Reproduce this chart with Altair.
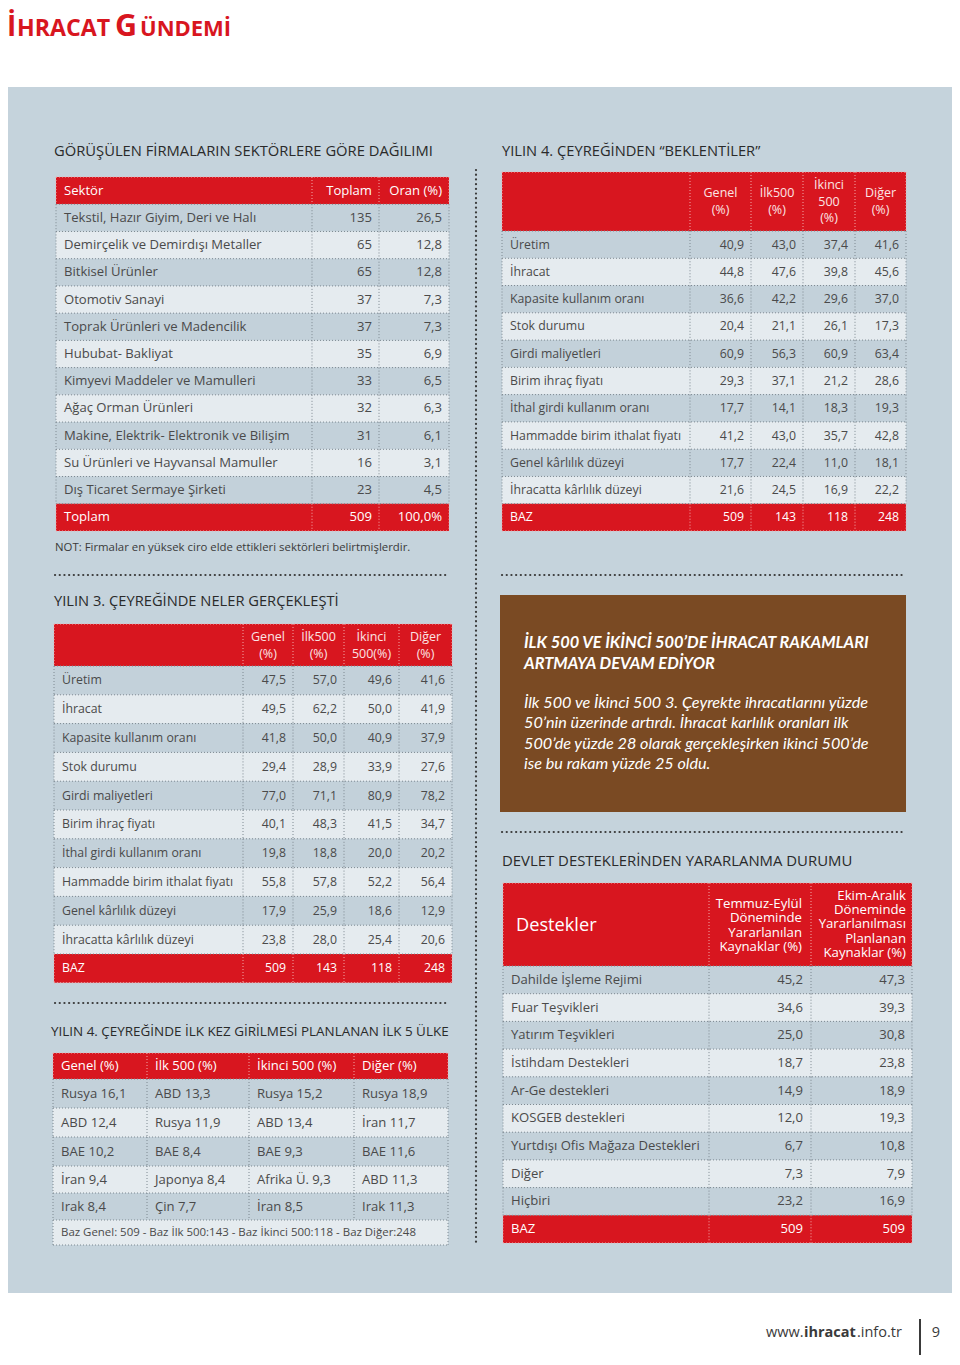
import altair as alt
import pandas as pd

# ---------------- data ----------------
page_title_parts = ["İ", "HRACAT", "G", "ÜNDEMİ"]

t1_title = "GÖRÜŞÜLEN FİRMALARIN SEKTÖRLERE GÖRE DAĞILIMI"
t1_header = ["Sektör", "Toplam", "Oran (%)"]
sector_names = ["Tekstil, Hazır Giyim, Deri ve Halı", "Demirçelik ve Demirdışı Metaller",
                "Bitkisel Ürünler", "Otomotiv Sanayi", "Toprak Ürünleri ve Madencilik",
                "Hububat- Bakliyat", "Kimyevi Maddeler ve Mamulleri", "Ağaç Orman Ürünleri",
                "Makine, Elektrik- Elektronik ve Bilişim", "Su Ürünleri ve Hayvansal Mamuller",
                "Dış Ticaret Sermaye Şirketi"]
sector_total = [135, 65, 65, 37, 37, 35, 33, 32, 31, 16, 23]
sector_share = [26.5, 12.8, 12.8, 7.3, 7.3, 6.9, 6.5, 6.3, 6.1, 3.1, 4.5]
sector_sum_label = "Toplam"
sector_sum_total = 509
sector_sum_share = "100,0%"
t1_note = "NOT: Firmalar en yüksek ciro elde ettikleri sektörleri belirtmişlerdir."

t2_title = "YILIN 4. ÇEYREĞİNDEN “BEKLENTİLER”"
t2_header = [["Genel", "(%)"], ["İlk500", "(%)"], ["İkinci", "500", "(%)"], ["Diğer", "(%)"]]
exp_items = ["Üretim", "İhracat", "Kapasite kullanım oranı", "Stok durumu", "Girdi maliyetleri",
             "Birim ihraç fiyatı", "İthal girdi kullanım oranı", "Hammadde birim ithalat fiyatı",
             "Genel kârlılık düzeyi", "İhracatta kârlılık düzeyi"]
exp_genel = [40.9, 44.8, 36.6, 20.4, 60.9, 29.3, 17.7, 41.2, 17.7, 21.6]
exp_ilk500 = [43.0, 47.6, 42.2, 21.1, 56.3, 37.1, 14.1, 43.0, 22.4, 24.5]
exp_ikinci500 = [37.4, 39.8, 29.6, 26.1, 60.9, 21.2, 18.3, 35.7, 11.0, 16.9]
exp_diger = [41.6, 45.6, 37.0, 17.3, 63.4, 28.6, 19.3, 42.8, 18.1, 22.2]
exp_base = [509, 143, 118, 248]

t3_title = "YILIN 3. ÇEYREĞİNDE NELER GERÇEKLEŞTİ"
t3_header = [["Genel", "(%)"], ["İlk500", "(%)"], ["İkinci", "500(%)"], ["Diğer", "(%)"]]
real_items = ["Üretim", "İhracat", "Kapasite kullanım oranı", "Stok durumu", "Girdi maliyetleri",
              "Birim ihraç fiyatı", "İthal girdi kullanım oranı", "Hammadde birim ithalat fiyatı",
              "Genel kârlılık düzeyi", "İhracatta kârlılık düzeyi"]
real_genel = [47.5, 49.5, 41.8, 29.4, 77.0, 40.1, 19.8, 55.8, 17.9, 23.8]
real_ilk500 = [57.0, 62.2, 50.0, 28.9, 71.1, 48.3, 18.8, 57.8, 25.9, 28.0]
real_ikinci500 = [49.6, 50.0, 40.9, 33.9, 80.9, 41.5, 20.0, 52.2, 18.6, 25.4]
real_diger = [41.6, 41.9, 37.9, 27.6, 78.2, 34.7, 20.2, 56.4, 12.9, 20.6]
real_base = [509, 143, 118, 248]
base_label = "BAZ"

t4_title = "YILIN 4. ÇEYREĞİNDE İLK KEZ GİRİLMESİ PLANLANAN İLK 5 ÜLKE"
t4_header = ["Genel (%)", "İlk 500 (%)", "İkinci 500 (%)", "Diğer (%)"]
cty_genel = ["Rusya", "ABD", "BAE", "İran", "Irak"]
val_genel = [16.1, 12.4, 10.2, 9.4, 8.4]
cty_ilk500 = ["ABD", "Rusya", "BAE", "Japonya", "Çin"]
val_ilk500 = [13.3, 11.9, 8.4, 8.4, 7.7]
cty_ikinci500 = ["Rusya", "ABD", "BAE", "Afrika Ü.", "İran"]
val_ikinci500 = [15.2, 13.4, 9.3, 9.3, 8.5]
cty_diger = ["Rusya", "İran", "BAE", "ABD", "Irak"]
val_diger = [18.9, 11.7, 11.6, 11.3, 11.3]
t4_footer = "Baz Genel: 509 - Baz İlk 500:143 - Baz İkinci 500:118 - Baz Diğer:248"

box_title = ["İLK 500 VE İKİNCİ 500’DE İHRACAT RAKAMLARI", "ARTMAYA DEVAM EDİYOR"]
box_body = ["İlk 500 ve İkinci 500 3. Çeyrekte ihracatlarını yüzde",
            "50’nin üzerinde artırdı. İhracat karlılık oranları ilk",
            "500’de yüzde 28 olarak gerçekleşirken ikinci 500’de",
            "ise bu rakam yüzde 25 oldu."]

t5_title = "DEVLET DESTEKLERİNDEN YARARLANMA DURUMU"
t5_header_main = "Destekler"
t5_header_used = ["Temmuz-Eylül", "Döneminde", "Yararlanılan", "Kaynaklar (%)"]
t5_header_plan = ["Ekim-Aralık", "Döneminde", "Yararlanılması", "Planlanan", "Kaynaklar (%)"]
sup_items = ["Dahilde İşleme Rejimi", "Fuar Teşvikleri", "Yatırım Teşvikleri", "İstihdam Destekleri",
             "Ar-Ge destekleri", "KOSGEB destekleri", "Yurtdışı Ofis Mağaza Destekleri", "Diğer", "Hiçbiri"]
sup_used = [45.2, 34.6, 25.0, 18.7, 14.9, 12.0, 6.7, 7.3, 23.2]
sup_planned = [47.3, 39.3, 30.8, 23.8, 18.9, 19.3, 10.8, 7.9, 16.9]
sup_base = [509, 509]

footer_site = ["www.", "ihracat", ".info.tr"]
footer_page = "9"

# ---------------- styling ----------------
FONT = "Open Sans"
BOXFONT = "Lato"
RED = "#d8161f"
BROWN = "#7a4a23"
PANEL = "#c5d3dc"
DARK = "#c3d1da"
LIGHT = "#e5ebef"
TXT = "#4a4a4a"
TITLE = "#2a2a2a"
HDR = "#fbe4e4"
FILL = {"red": RED, "dark": DARK, "light": LIGHT}
LINE_GRAY = "#7d8890"
LINE_RED = "#f2a9a9"

W, H = 944, 1347
X0, Y0 = 8, 8


def fmt(v):
    return f"{v:.1f}".replace(".", ",")


rects, rules, seps, solids, texts = [], [], [], [], []


def T(x, y, text, size=12.5, color=TXT, align="left", weight="normal", style="normal",
      font=FONT, baseline="middle", lh=0.0):
    texts.append(dict(x=x, y=y, text=str(text), size=size, color=color, align=align,
                      weight=weight, style=style, font=font, baseline=baseline, lh=float(lh)))


def TM(x, yc, lines, size, color, align, lh):
    """multi-line text block centred vertically on yc (first line y given to Vega)."""
    y_first = yc - (len(lines) - 1) / 2 * lh
    T(x, y_first, "\n".join(lines), size, color, align=align, lh=lh)


def table(x_edges, y_edges, kinds, full_rows=()):
    for i, k in enumerate(kinds):
        rects.append(dict(x=x_edges[0], x2=x_edges[-1], y=y_edges[i], y2=y_edges[i + 1], fill=FILL[k]))
    for j, yy in enumerate(y_edges):
        above = kinds[j - 1] if j > 0 else None
        below = kinds[j] if j < len(kinds) else None
        col = LINE_RED if (above in (None, "red") and below in (None, "red")) else LINE_GRAY
        rules.append(dict(x=x_edges[0], x2=x_edges[-1], y=yy, y2=yy, color=col))
    for i, k in enumerate(kinds):
        edges = [x_edges[0], x_edges[-1]] if i in full_rows else x_edges
        for xx in edges:
            rules.append(dict(x=xx, x2=xx, y=y_edges[i], y2=y_edges[i + 1],
                              color=LINE_RED if k == "red" else LINE_GRAY))


def rows(y0, h, n):
    return [y0 + h * i for i in range(n + 1)]


def mid(edges, i):
    return (edges[i] + edges[i + 1]) / 2


# background panel
rects.append(dict(x=5, x2=957, y=87, y2=1293, fill=PANEL))

# page title (small caps look)
T(7, 36, page_title_parts[0], 28, RED, weight="bold", baseline="alphabetic")
T(17, 36, page_title_parts[1], 23.2, RED, weight="bold", baseline="alphabetic")
T(115, 36, page_title_parts[2], 30.5, RED, weight="bold", baseline="alphabetic")
T(140, 36, page_title_parts[3], 22, RED, weight="bold", baseline="alphabetic")

# ---- table 1 ----
T(54, 152, t1_title, 14.75, TITLE)
x1 = [56, 312, 379, 449]
y1 = rows(177, 27.23, 13)
k1 = ["red"] + ["dark" if i % 2 == 0 else "light" for i in range(11)] + ["red"]
table(x1, y1, k1)
S1 = 13.1
T(64, mid(y1, 0), t1_header[0], S1, "white")
T(x1[2] - 7, mid(y1, 0), t1_header[1], S1, "white", align="right")
T(x1[3] - 7, mid(y1, 0), t1_header[2], S1, "white", align="right")
for i, (n, t, s) in enumerate(zip(sector_names, sector_total, sector_share)):
    T(64, mid(y1, i + 1), n, S1)
    T(x1[2] - 7, mid(y1, i + 1), t, S1, align="right")
    T(x1[3] - 7, mid(y1, i + 1), fmt(s), S1, align="right")
T(64, mid(y1, 12), sector_sum_label, S1, "white")
T(x1[2] - 7, mid(y1, 12), sector_sum_total, S1, "white", align="right")
T(x1[3] - 7, mid(y1, 12), sector_sum_share, S1, "white", align="right")
T(55, 548, t1_note, 11.4, "#3a3a3a")

# ---- table 2 ----
T(502, 152, t2_title, 14.7, TITLE)
x2 = [502, 690, 751, 803, 855, 906]
y2 = [172] + rows(231, 27.27, 11)
k2 = ["red"] + ["dark" if i % 2 == 0 else "light" for i in range(10)] + ["red"]
table(x2, y2, k2)
S2 = 12.3
for c, lines in enumerate(t2_header):
    TM(mid(x2, c + 1), (y2[0] + y2[1]) / 2, lines, 12.5, HDR, "center", 16.5)
cols2 = [exp_genel, exp_ilk500, exp_ikinci500, exp_diger]
for i, item in enumerate(exp_items):
    T(510, mid(y2, i + 1), item, S2)
    for c, col in enumerate(cols2):
        T(x2[c + 2] - 7, mid(y2, i + 1), fmt(col[i]), S2, align="right")
T(510, mid(y2, 11), base_label, S2, "white")
for c, b in enumerate(exp_base):
    T(x2[c + 2] - 7, mid(y2, 11), b, S2, "white", align="right")
seps.append(dict(x=55, x2=448, y=575, y2=575))
seps.append(dict(x=502, x2=905, y=575, y2=575))

# ---- table 3 ----
T(54, 602, t3_title, 14.7, TITLE)
x3 = [54, 243, 293, 344, 399, 452]
y3 = [624] + rows(666, 28.8, 11)
k3 = ["red"] + ["dark" if i % 2 == 0 else "light" for i in range(10)] + ["red"]
table(x3, y3, k3)
S3 = 12.3
for c, lines in enumerate(t3_header):
    TM(mid(x3, c + 1), (y3[0] + y3[1]) / 2, lines, 12.5, HDR, "center", 17)
cols3 = [real_genel, real_ilk500, real_ikinci500, real_diger]
for i, item in enumerate(real_items):
    T(62, mid(y3, i + 1), item, S3)
    for c, col in enumerate(cols3):
        T(x3[c + 2] - 7, mid(y3, i + 1), fmt(col[i]), S3, align="right")
T(62, mid(y3, 11), base_label, S3, "white")
for c, b in enumerate(real_base):
    T(x3[c + 2] - 7, mid(y3, 11), b, S3, "white", align="right")
seps.append(dict(x=55, x2=448, y=1003, y2=1003))

# ---- table 4 ----
T(51, 1032, t4_title, 13.45, TITLE)
x4 = [53, 147, 249, 354, 448]
y4 = [1053, 1079, 1108, 1137, 1166, 1193, 1220, 1245]
k4 = ["red", "dark", "light", "dark", "light", "dark", "light"]
table(x4, y4, k4, full_rows=(6,))
S4 = 13.1
for c, h in enumerate(t4_header):
    T(x4[c] + 8, mid(y4, 0), h, S4, "white")
ctys = [cty_genel, cty_ilk500, cty_ikinci500, cty_diger]
vals = [val_genel, val_ilk500, val_ikinci500, val_diger]
for c in range(4):
    for i in range(5):
        T(x4[c] + 8, mid(y4, i + 1), f"{ctys[c][i]} {fmt(vals[c][i])}", S4)
T(61, mid(y4, 6), t4_footer, 11.45)

# ---- brown box ----
rects.append(dict(x=500, x2=906, y=595, y2=812, fill=BROWN))
for li, ln in enumerate(box_title):
    T(524, 643 + li * 20.5, ln, 16.4, "white", weight="bold", style="italic", font=BOXFONT)
for li, ln in enumerate(box_body):
    T(524, 703 + li * 20.3, ln, 16.2, "white", style="italic", font=BOXFONT)
seps.append(dict(x=502, x2=905, y=832, y2=832))

# ---- table 5 ----
T(502, 862, t5_title, 14.9, TITLE)
x5 = [503, 709, 811, 912]
y5 = [883] + rows(966, 27.7, 10)
k5 = ["red"] + ["dark" if i % 2 == 0 else "light" for i in range(9)] + ["red"]
table(x5, y5, k5)
S5 = 13.1
T(516, 926, t5_header_main, 18.2, "white")
hc = (y5[0] + y5[1]) / 2
TM(x5[2] - 9, hc + 1, t5_header_used, 13.2, "white", "right", 14.3)
TM(x5[3] - 6, hc, t5_header_plan, 13.2, "white", "right", 14.3)
for i, item in enumerate(sup_items):
    T(511, mid(y5, i + 1), item, S5)
    T(x5[2] - 8, mid(y5, i + 1), fmt(sup_used[i]), S5, align="right")
    T(x5[3] - 7, mid(y5, i + 1), fmt(sup_planned[i]), S5, align="right")
T(511, mid(y5, 10), base_label, S5, "white")
T(x5[2] - 8, mid(y5, 10), sup_base[0], S5, "white", align="right")
T(x5[3] - 7, mid(y5, 10), sup_base[1], S5, "white", align="right")

# vertical separator between columns
seps.append(dict(x=476, x2=476, y=170, y2=1245))

# ---- footer ----
T(766, 1333, footer_site[0], 14.5, "#3a3a3a")
T(804, 1333, footer_site[1], 14.5, "#3a3a3a", weight="bold")
T(857, 1333, footer_site[2], 14.5, "#3a3a3a")
solids.append(dict(x=920, x2=920, y=1319, y2=1365))
T(936, 1333, footer_page, 14.5, "#3a3a3a", align="center")

# ---------------- chart ----------------
xs = alt.Scale(domain=[X0, X0 + W], nice=False, zero=False)
ys = alt.Scale(domain=[Y0, Y0 + H], nice=False, zero=False, reverse=True)


def X(f="x"):
    return alt.X(f"{f}:Q", scale=xs, axis=None)


def Y(f="y"):
    return alt.Y(f"{f}:Q", scale=ys, axis=None)


layers = []
layers.append(alt.Chart(pd.DataFrame(rects)).mark_rect().encode(
    x=X(), x2="x2:Q", y=Y(), y2="y2:Q", color=alt.Color("fill:N", scale=None)))
layers.append(alt.Chart(pd.DataFrame(rules)).mark_rule(strokeDash=[1, 2], strokeWidth=1).encode(
    x=X(), x2="x2:Q", y=Y(), y2="y2:Q", color=alt.Color("color:N", scale=None)))
layers.append(alt.Chart(pd.DataFrame(seps)).mark_rule(
    strokeDash=[0.1, 4.6], strokeWidth=2.2, strokeCap="round", color="#3a3a3a").encode(
    x=X(), x2="x2:Q", y=Y(), y2="y2:Q"))
layers.append(alt.Chart(pd.DataFrame(solids)).mark_rule(strokeWidth=2, color="#3a3a3a").encode(
    x=X(), x2="x2:Q", y=Y(), y2="y2:Q"))

tdf = pd.DataFrame(texts)
keys = ["align", "weight", "style", "font", "baseline", "lh"]
for (align, weight, style, font, baseline, lh), g in tdf.groupby(keys):
    kw = dict(align=align, fontWeight=weight, fontStyle=style, font=font, baseline=baseline)
    if lh > 0:
        kw.update(lineBreak="\n", lineHeight=lh)
    layers.append(alt.Chart(g.drop(columns=keys).reset_index(drop=True)).mark_text(**kw).encode(
        x=X(), y=Y(), text="text:N",
        size=alt.Size("size:Q", scale=None),
        color=alt.Color("color:N", scale=None)))

chart = alt.layer(*layers).properties(
    width=W, height=H, padding=0, background="white",
    autosize=alt.AutoSizeParams(type="none")).configure_view(stroke=None)

chart.save("out.html", embed_options={"renderer": "svg", "actions": False})
